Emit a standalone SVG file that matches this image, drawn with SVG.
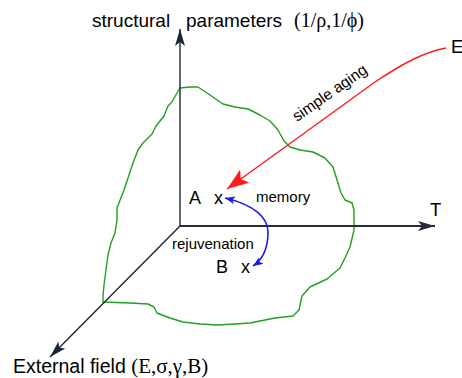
<svg xmlns="http://www.w3.org/2000/svg" width="462" height="378" viewBox="0 0 462 378">
<style>
.sans{font-family:"Liberation Sans",Arial,sans-serif;fill:#000}
.serif{font-family:"Liberation Serif","Times New Roman",serif;fill:#000}
.axis{stroke:#1b2538;stroke-width:1.4;fill:none}
</style>
<defs>
<marker id="ax" viewBox="0 0 17 10" refX="17" refY="5" markerWidth="17" markerHeight="10" markerUnits="userSpaceOnUse" orient="auto"><path d="M0,0 L17,5 L0,10 L4,5 z" fill="#1b2538"/></marker>
<marker id="axh" viewBox="0 0 17 10" refX="17" refY="5" markerWidth="17" markerHeight="10" markerUnits="userSpaceOnUse" orient="auto"><path d="M0,0 L17,5 L0,10 L4,5 z" fill="#2d2a38"/></marker>
<marker id="red" viewBox="0 0 22 16" refX="22" refY="8" markerWidth="22" markerHeight="16" markerUnits="userSpaceOnUse" orient="auto"><path d="M0,0 L22,8 L0,16 L5,8 z" fill="#ff1a1a"/></marker>
<marker id="blue" viewBox="0 0 10 8" refX="10" refY="4" markerWidth="10" markerHeight="8" markerUnits="userSpaceOnUse" orient="auto-start-reverse"><path d="M0,0 L10,4 L0,8 L2.5,4 z" fill="#1a1aee"/></marker>
</defs>
<g id="region">
<path d="M180,88 L190,87 L198,87 L210,95 L223,104 L235,107 L248,109 L260,115 L270,121 L278,130 L284,141 L290,147 L300,150 L313,152 L325,158 L333,167 L337,180 L341,193 L345,200 L352,203 L354,210 L354,230 L350,247 L345,258 L340,268 L327,279 L310,287 L302,296 L299,310 L293,316 L275,318 L260,321 L250,323 L235,324 L217,325 L200,324 L183,322 L170,318 L157,313 L154,307 L148,304 L130,303 L103,302 L103,296 L104,285 L106,270 L108,255 L111,243 L115,233 L117,220 L117,208 L124,190 L133,163 L138,150 L143,143 L152,134 L156,126 L164,116 L168,106 L172,102 L177,93 Z" fill="none" stroke="#1fa01f" stroke-width="1.4" stroke-linejoin="round"/>
</g>
<g id="connectors">
<line class="axis" x1="180" y1="226" x2="180" y2="29" marker-end="url(#ax)"/>
<line x1="180" y1="226" x2="435" y2="226" stroke="#2d2a38" stroke-width="2" marker-end="url(#axh)"/>
<line class="axis" x1="180" y1="226" x2="50" y2="357" marker-end="url(#ax)"/>
<path d="M446,48 C425,52 405,62 375,82 L227,189" fill="none" stroke="#ff1a1a" stroke-width="1.4" marker-end="url(#red)"/>
<path d="M225,198 C255,205 268,218 268,232 C268,248 262,260 253,266" fill="none" stroke="#1a1aee" stroke-width="1.6" marker-start="url(#blue)" marker-end="url(#blue)"/>
</g>
<g id="label-structural">
<text class="sans" x="92" y="27" font-size="19">structural</text>
<text class="sans" x="186" y="27" font-size="19">parameters</text>
<text class="serif" x="294" y="27" font-size="20">(1/ρ,1/ϕ)</text>
</g>
<g id="label-external">
<text x="13" y="373" font-size="19.5"><tspan class="sans">External field </tspan><tspan class="serif" font-size="21">(E,σ,γ,B)</tspan></text>
</g>
<g id="label-E"><text class="sans" x="451" y="53" font-size="18.5">E</text></g>
<g id="label-T"><text class="sans" x="430" y="216" font-size="18.5">T</text></g>
<g id="simple-aging"><text class="sans" x="0" y="0" font-size="15.5" transform="translate(297,122) rotate(-35)">simple aging</text></g>
<g id="point-A"><text class="sans" x="189" y="204" font-size="18">A</text><text class="sans" x="214" y="204" font-size="18">x</text></g>
<g id="point-B"><text class="sans" x="216" y="273" font-size="18">B</text><text class="sans" x="241" y="273" font-size="18">x</text></g>
<g id="label-memory"><text class="sans" x="256" y="202" font-size="15">memory</text></g>
<g id="label-rejuvenation"><text class="sans" x="172" y="249" font-size="15">rejuvenation</text></g>
</svg>
